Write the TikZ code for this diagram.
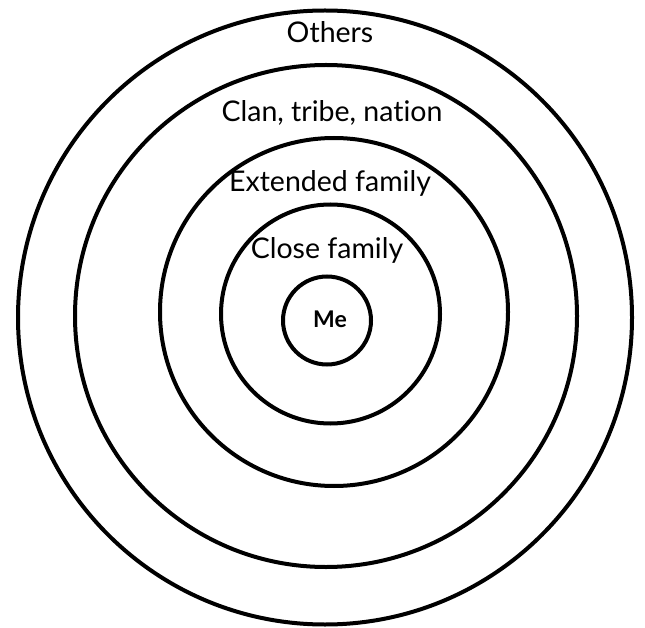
\documentclass[tikz,border=0pt]{standalone}
\usepackage{fontspec}
\setmainfont{Lato}[Ligatures={NoCommon,NoRare,NoDiscretionary}]
\begin{document}
\begin{tikzpicture}[x=1pt,y=-1pt,
  ring/.style={draw=black, circle, line width=4pt, inner sep=0pt, fill=none},
  lbl/.style={inner sep=0pt, anchor=base, font=\fontsize{28.5}{31}\selectfont},
  melbl/.style={inner sep=0pt, font=\fontsize{23}{26}\selectfont\bfseries}]
\useasboundingbox (0,0) rectangle (645,628);
\node[ring, minimum size=614pt] (others) at (325,317.5) {};
\node[ring, minimum size=502pt] (clan) at (326,316) {};
\node[ring, minimum size=348pt] (ext) at (334,312) {};
\node[ring, minimum size=219pt] (close) at (330.5,314) {};
\node[ring, minimum size=88pt] (me) at (327,320.5) {};
\node[lbl] (tOthers) at (330,43) {Others};
\node[lbl] (tClan) at (332,122) {Clan, tribe, nation};
\node[lbl] (tExt) at (330,192) {Extended family};
\node[lbl] (tClose) at (327,259) {Close family};
\node[melbl] (tMe) at (330,319) {Me};
\end{tikzpicture}
\end{document}
